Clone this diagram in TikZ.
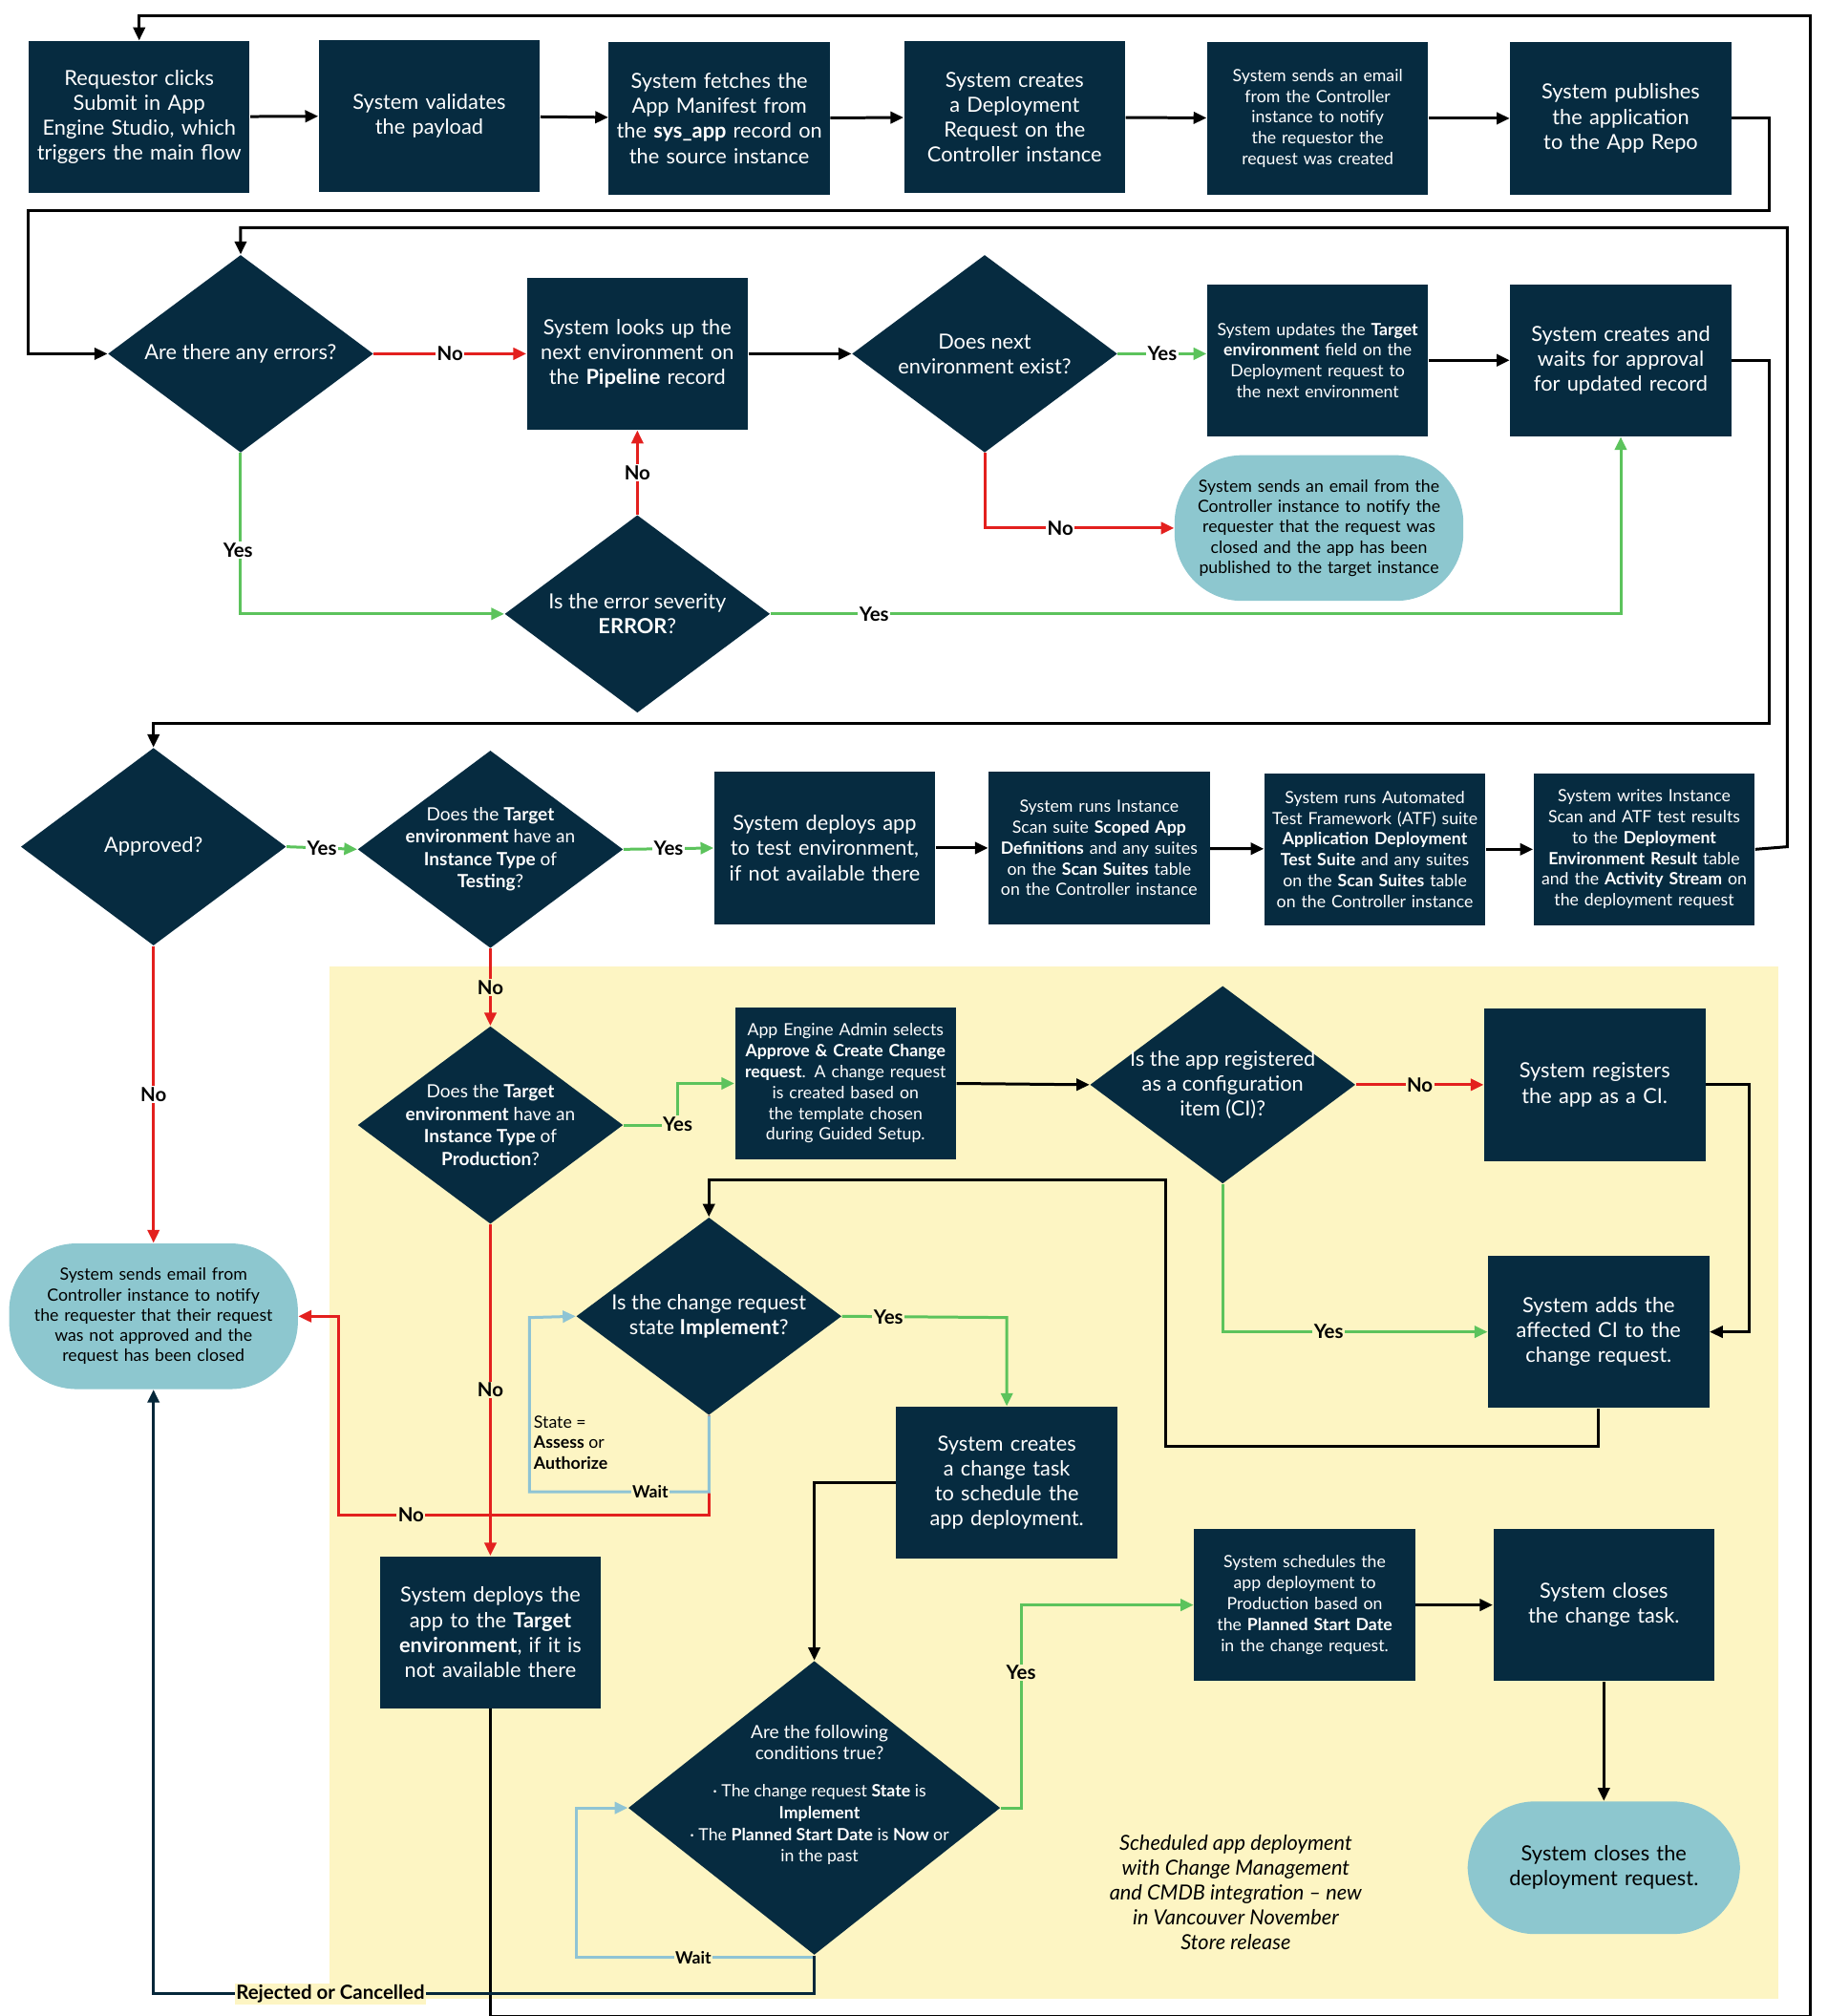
\documentclass[tikz,border=0pt]{standalone}
\usepackage{fontspec}
\setmainfont{Lato}
\usetikzlibrary{arrows.meta,shapes.geometric}
\definecolor{navy}{HTML}{062B40}
\definecolor{teal}{HTML}{8DC7CF}
\definecolor{ybg}{HTML}{FDF5C3}
\definecolor{rd}{HTML}{E3201E}
\definecolor{gr}{HTML}{5CC35C}
\definecolor{lb}{HTML}{8FC4D4}
\begin{document}
\hyphenpenalty=10000 \exhyphenpenalty=10000
\begin{tikzpicture}[x=0.5pt,y=-0.5pt,
 box/.style={fill=navy,text=white,minimum width=85pt,minimum height=58.5pt,align=center,text width=80pt,inner sep=1pt,font=\fontsize{8}{9.6}\selectfont},
 sbox/.style={box,font=\fontsize{6.5}{8}\selectfont},
 tl/.style={fill=teal,rounded corners=26pt,minimum width=111pt,minimum height=56pt,align=center,text width=98pt,font=\fontsize{6.5}{7.8}\selectfont},
 dia/.style={diamond,fill=navy,inner sep=0,minimum width=102pt,minimum height=76pt},
 dt/.style={text=white,align=center,font=\fontsize{8}{9.6}\selectfont},
 a/.style={-{Triangle[length=5pt,width=4.5pt]},line width=1.1pt},
 k/.style={a,black},
 r/.style={a,rd},
 g/.style={a,gr},
 b/.style={a,lb},
 lab/.style={text=black,font=\bfseries\fontsize{7.5}{9}\selectfont,fill=white,inner sep=0.5pt},
 laby/.style={lab,fill=ybg}
]
\useasboundingbox (0,0) rectangle (1405,1550);
\fill[ybg] (253,743) rectangle (1367,1537);
% row 1
\node[box] (a1) at (107,90) {Requestor clicks Submit in App Engine Studio, which triggers the main flow};
\node[box] (a2) at (330,89) {System validates the payload};
\node[box] (a3) at (553,91) {System fetches the App Manifest from the \textbf{sys\_app} record on the source instance};
\node[box] (a4) at (780,90) {System creates a Deployment Request on the Controller instance};
\node[sbox] (a5) at (1013,91) {System sends an email from the Controller instance to notify the requestor the request was created};
\node[box] (a6) at (1246,91) {System publishes the application to the App Repo};
\foreach \p/\q in {a1/a2,a2/a3,a3/a4,a4/a5,a5/a6} \draw[k] (\p) -- (\q);
% row 2
\node[dia] (d1) at (185,272) {}; \node[dt] at (d1) {Are there any errors?};
\node[box] (b1) at (490,272) {System looks up the next environment on the \textbf{Pipeline} record};
\node[dia] (d2) at (757,272) {}; \node[dt] at (d2) {Does next\\environment exist?};
\node[sbox] (b2) at (1013,277) {System updates the \textbf{Target environment} field on the Deployment request to the next environment};
\node[box] (b3) at (1246,277) {System creates and waits for approval for updated record};
\node[tl] (t1) at (1014,406) {System sends an email from the Controller instance to notify the requester that the request was closed and the app has been published to the target instance};
\node[dia] (d3) at (490,472) {}; \node[dt] at (d3) {Is the error severity\\\textbf{ERROR}?};
\coordinate (c1) at (22,272);
\draw[k] (a6.east) -- (1360,91) -- (1360,162) -- (22,162) -- (c1) -- (d1.west);
\draw[r] (d1.east) -- node[lab]{No} (b1.west);
\draw[k] (b1) -- (d2);
\draw[g] (d2.east) -- node[lab]{Yes} (b2.west |- d2.east);
\draw[k] (b2.east) -- (b3.west);
\draw[r] (d2.south) |- node[lab,pos=0.7]{No} (t1.west);
\draw[g] (d1.south) |- (d3.west);
\node[lab] at (183,423) {Yes};
\draw[r] (d3.north) -- node[lab]{No} (b1.south);
\draw[g] (d3.east) -| (b3.south);
\node[lab] at (672,472) {Yes};
% row 3
\node[dia] (d4) at (118,651) {}; \node[dt] at (d4) {Approved?};
\node[dia] (d5) at (377,653) {}; \node[dt,font=\fontsize{7}{8.6}\selectfont] at (d5) {Does the \textbf{Target}\\\textbf{environment} have an\\\textbf{Instance Type} of\\\textbf{Testing}?};
\node[box] (b4) at (634,652) {System deploys app to test environment, if not available there};
\node[sbox] (b5) at (845,652) {System runs Instance Scan suite \textbf{Scoped App Definitions} and any suites on the \textbf{Scan Suites} table on the Controller instance};
\node[sbox] (b6) at (1057,653) {System runs Automated Test Framework (ATF) suite \textbf{Application Deployment Test Suite} and any suites on the \textbf{Scan Suites} table on the Controller instance};
\node[sbox] (b7) at (1264,653) {System writes Instance Scan and ATF test results to the \textbf{Deployment Environment Result} table and the \textbf{Activity Stream} on the deployment request};
\draw[k] (b3.east) -- (1360,277) -- (1360,556) -- (118,556) -- (d4.north);
\draw[g] (d4.east) -- node[lab]{Yes} (d5.west);
\draw[g] (d5.east) -- node[lab]{Yes} (b4.west);
\draw[k] (b4) -- (b5); \draw[k] (b5) -- (b6); \draw[k] (b6) -- (b7);
\draw[k] (b7.east) -- (1374,651) -- (1374,175) -- (185,175) -- (d1.north);
\node[tl] (t2) at (118,1012) {System sends email from Controller instance to notify the requester that their request was not approved and the request has been closed};
\draw[r] (d4.south) -- node[lab]{No} (t2.north);
% yellow region
\node[dia] (d6) at (377,865) {}; \node[dt,font=\fontsize{7}{8.6}\selectfont] at (d6) {Does the \textbf{Target}\\\textbf{environment} have an\\\textbf{Instance Type} of\\\textbf{Production}?};
\draw[r] (d5.south) -- node[laby]{No} (d6.north);
\node[sbox] (b8) at (650,833) {App Engine Admin selects \textbf{Approve \& Create Change request}. A change request is created based on the template chosen during Guided Setup.};
\draw[g] (d6.east) -- (521,865) |- (b8.west);
\node[laby] at (521,864) {Yes};
\node[dia] (d7) at (940,834) {}; \node[dt] at (d7) {Is the app registered\\as a configuration\\item (CI)?};
\draw[k] (b8.east) -- (d7.west);
\node[box] (b9) at (1226,834) {System registers the app as a CI.\\[9pt]};
\draw[r] (d7.east) -- node[laby]{No} (b9.west);
\node[box] (b10) at (1229,1024) {System adds the affected CI to the change request.};
\draw[k] (b9.east) -- (1345,834) -- (1345,1024) -- (b10.east);
\draw[g] (d7.south) |- node[laby,pos=0.7]{Yes} (b10.west);
\node[dia] (d8) at (545,1012) {}; \node[dt] at (d8) {Is the change request\\state \textbf{Implement}?};
\draw[k] (b10.south) -- (1229,1112) -- (896,1112) -- (896,907) -- (545,907) -- (d8.north);
\node[box] (b11) at (774,1140) {System creates a change task to schedule the app deployment.};
\draw[g] (d8.east) -- (774,1013) -- (b11.north);
\node[laby] at (683,1013) {Yes};
\draw[r] (d8.south) -- (545,1165) -- (260,1165) -- (260,1012) -- (t2.east);
\node[laby] at (316,1165) {No};
\draw[b] (d8.south) -- (545,1147) -- (407,1147) -- (407,1013) -- (d8.west);
\node[laby,font=\bfseries\fontsize{6.5}{8}\selectfont] at (500,1147) {Wait};
\node[anchor=north west,align=left,inner sep=0,font=\fontsize{6.5}{8}\selectfont] at (410,1088) {State =\\\textbf{Assess} or\\\textbf{Authorize}};
\node[box] (b12) at (377,1255) {System deploys the app to the \textbf{Target environment}, if it is not available there};
\draw[r] (d6.south) -- node[laby]{No} (b12.north);
\draw[k] (b12.south) -- (377,1550) -- (1392,1550) -- (1392,12) -- (107,12) -- (a1.north);
\node[diamond,fill=navy,inner sep=0,minimum width=143pt,minimum height=113pt] (d9) at (626,1390) {};
\node[text=white,align=center,font=\fontsize{7}{8.3}\selectfont] at (630,1380) {Are the following\\conditions true?\\[6pt]
{\fontsize{6.5}{8}\selectfont · The change request \textbf{State} is}\\{\fontsize{6.5}{8}\selectfont\textbf{Implement}}\\{\fontsize{6.5}{8}\selectfont · The \textbf{Planned Start Date} is \textbf{Now} or}\\{\fontsize{6.5}{8}\selectfont in the past}};
\draw[k] (b11.west) -- (626,1140) -- (d9.north);
\node[sbox] (b13) at (1003,1234) {System schedules the app deployment to Production based on the \textbf{Planned Start Date} in the change request.};
\node[box] (b14) at (1233,1234) {System closes the change task.\\[9pt]};
\node[tl,font=\fontsize{8}{9.6}\selectfont,minimum width=104pt,minimum height=51pt] (t3) at (1233,1436) {System closes the deployment request.};
\draw[g] (d9.east) -- (785,1390) |- (b13.west);
\node[laby] at (785,1286) {Yes};
\draw[k] (b13) -- (b14);
\draw[k] (b14) -- (t3);
\draw[b] (d9.south) -- (626,1505) -- (443,1505) -- (443,1390) -- (d9.west);
\node[laby,font=\bfseries\fontsize{6.5}{8}\selectfont] at (533,1505) {Wait};
\draw[a,draw=navy!90!black] (d9.south) -- (626,1533) -- (118,1533) -- (t2.south);
\node[lab,fill=ybg] at (254,1533) {Rejected or Cancelled};
\node[align=center,font=\itshape\fontsize{8}{9.6}\selectfont] at (950,1455) {Scheduled app deployment\\with Change Management\\and CMDB integration -- new\\in Vancouver November\\Store release};
\end{tikzpicture}
\end{document}
